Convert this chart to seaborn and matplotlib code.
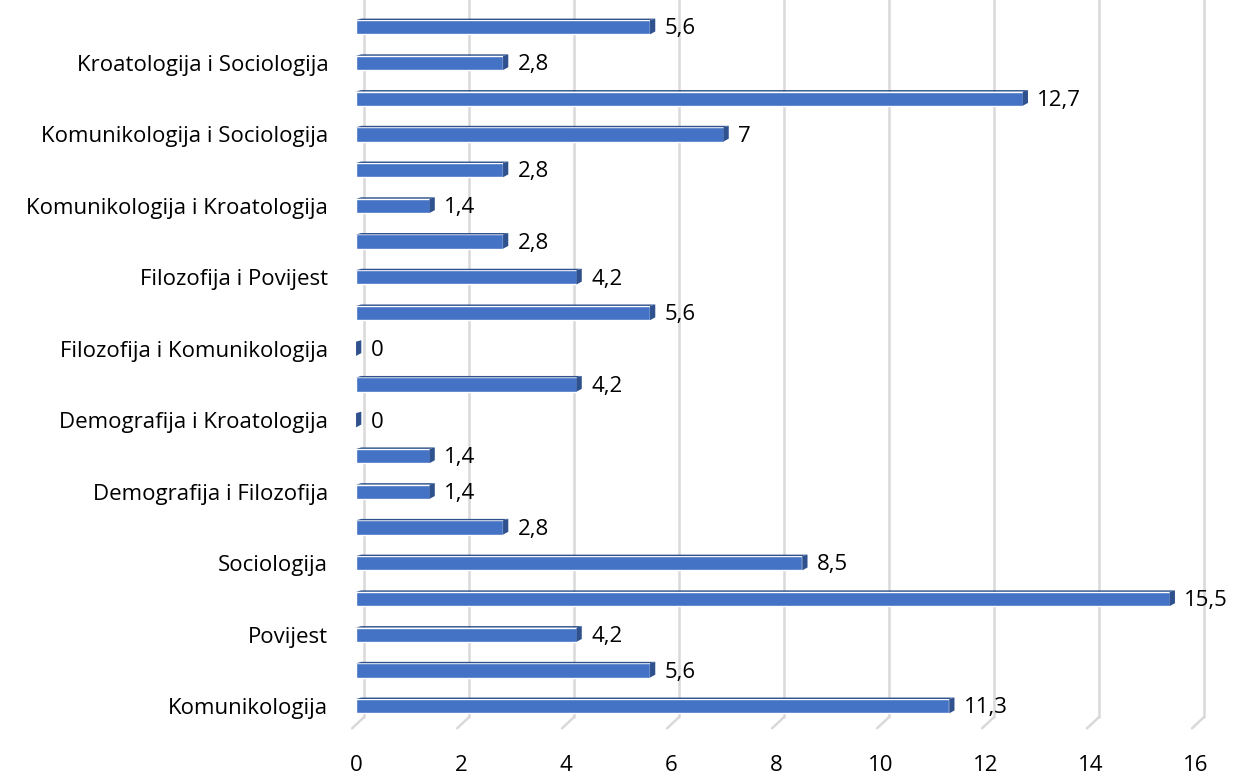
import numpy as np
import pandas as pd
import matplotlib.pyplot as plt
from matplotlib.patches import Polygon
import seaborn as sns

# categories listed top to bottom (only every second one is labelled on the axis)
categories = [
    "Povijest i Sociologija", "Kroatologija i Sociologija", "Kroatologija i Povijest",
    "Komunikologija i Sociologija", "Komunikologija i Povijest", "Komunikologija i Kroatologija",
    "Filozofija i Sociologija", "Filozofija i Povijest", "Filozofija i Kroatologija",
    "Filozofija i Komunikologija", "Demografija i Sociologija", "Demografija i Kroatologija",
    "Demografija i Komunikologija", "Demografija i Filozofija", "Demografija",
    "Sociologija", "Filozofija", "Povijest", "Kroatologija", "Komunikologija",
]
values = [5.6, 2.8, 12.7, 7, 2.8, 1.4, 2.8, 4.2, 5.6, 0,
          4.2, 0, 1.4, 1.4, 2.8, 8.5, 15.5, 4.2, 5.6, 11.3]
shown_labels = [c if i % 2 == 1 else "" for i, c in enumerate(categories)]
x_ticks = [0, 2, 4, 6, 8, 10, 12, 14, 16]

df = pd.DataFrame({"category": categories, "value": values})

BLUE = "#4472C4"
DARK = "#2F528F"
GRID = "#D9D9D9"
FS = 16

sns.set_style("white")
plt.rcParams["font.family"] = ["Open Sans", "DejaVu Sans"]

fig = plt.figure(figsize=(12.48, 7.76), dpi=100)
ax = fig.add_axes([0.2853, 0.067, 0.673, 0.921])

sns.barplot(data=df, y="category", x="value", order=categories, orient="h",
            color=BLUE, saturation=1, width=0.4, ax=ax, zorder=3)

n = len(categories)
ax.set_xlim(0, 16)
ax.set_ylim(n - 0.5, -0.5)
ax.set_xticks(x_ticks)
ax.set_xticklabels([str(t) for t in x_ticks], fontsize=FS)
ax.set_yticks(range(n))
ax.set_yticklabels(shown_labels, fontsize=FS)
ax.tick_params(axis="x", length=0, pad=22, labelcolor="black")
ax.tick_params(axis="y", length=0, pad=20, labelcolor="black")
ax.set_xlabel("")
ax.set_ylabel("")
for s in ax.spines.values():
    s.set_visible(False)

# vertical gridlines on the back wall, with the slanted foot of the 3D floor
for t in x_ticks:
    ax.plot([t + 0.15, t + 0.15], [-0.8, n - 0.69], color=GRID, lw=1.8,
            clip_on=False, zorder=0)
    ax.plot([t + 0.15, t - 0.075], [n - 0.69, n - 0.38],
            color=GRID, lw=1.8, clip_on=False, zorder=0)

# 3D end cap / top edge and value labels
for p, v in zip(ax.patches, values):
    x0, y0 = p.get_x(), p.get_y()
    w, h = p.get_width(), p.get_height()
    cap = Polygon([(x0 + w, y0 + h), (x0 + w + 0.1, y0 + h - 0.08),
                   (x0 + w + 0.1, y0 - 0.04), (x0 + w, y0)],
                  closed=True, facecolor=DARK, edgecolor="none", zorder=4)
    ax.add_patch(cap)
    top = Polygon([(x0, y0), (x0 + w, y0), (x0 + w + 0.1, y0 - 0.04), (x0 + 0.1, y0 - 0.04)],
                  closed=True, facecolor=DARK, edgecolor="none", zorder=4)
    ax.add_patch(top)
    ax.text(x0 + w + 0.28, y0 + h / 2 + 0.05, f"{v:g}".replace(".", ","),
            ha="left", va="center", fontsize=FS, color="black")

plt.savefig("out.png", dpi=100)
plt.close()
